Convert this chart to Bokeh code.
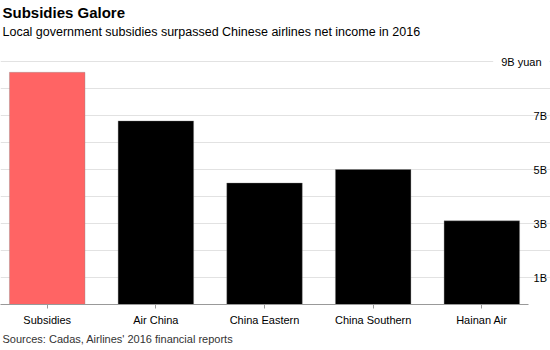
from bokeh.plotting import figure
from bokeh.models import ColumnDataSource, Label, FixedTicker, Title
from bokeh.embed import file_html
from bokeh.resources import INLINE

# ---- data ----
categories = ["Subsidies", "Air China", "China Eastern", "China Southern", "Hainan Air"]
values_b = [8.6, 6.8, 4.5, 5.0, 3.1]  # billion yuan
bar_colors = ["#ff6464", "#000000", "#000000", "#000000", "#000000"]
y_ticks = [1, 3, 5, 7, 9]
y_tick_labels = ["1B", "3B", "5B", "7B", "9B yuan"]
grid_ticks = [1, 2, 3, 4, 5, 6, 7, 8, 9]

FONT = "Liberation Sans"

xs = list(range(len(categories)))
src = ColumnDataSource(dict(x=xs, top=values_b, color=bar_colors, name=categories))

X0, X1 = -0.43, 4.43  # extent of the bar area

p = figure(width=550, height=350, output_backend="svg", toolbar_location=None,
           x_range=(X0, 4.632), y_range=(0, 11.26),
           y_axis_location=None,
           min_border_left=0, min_border_right=0, min_border_top=0, min_border_bottom=46)
p.outline_line_color = None
p.background_fill_color = "white"
p.border_fill_color = "white"

p.vbar(x="x", top="top", width=0.695, color="color", source=src,
       line_color="#888888", line_alpha=0.35, line_width=1)

# grid
p.xgrid.visible = False
p.ygrid.ticker = FixedTicker(ticks=grid_ticks)
p.ygrid.grid_line_color = "#e2e2e2"
p.ygrid.grid_line_width = 1
p.ygrid.bounds = (X0, X1)

# x axis
ax = p.xaxis[0]
ax.ticker = FixedTicker(ticks=xs)
ax.bounds = (X0, X1)
ax.major_label_overrides = {i: c for i, c in zip(xs, categories)}
ax.axis_line_color = "#999999"
ax.axis_line_width = 1
ax.major_tick_line_color = "#999999"
ax.major_tick_out = 4
ax.major_tick_in = 0
ax.minor_tick_line_color = None
ax.major_label_standoff = 5
ax.major_label_text_font = FONT
ax.major_label_text_font_size = "11px"
ax.major_label_text_color = "#000000"

# y labels on the right
for v, lab in zip(y_ticks, y_tick_labels):
    if lab.endswith("yuan"):
        p.add_layout(Label(x=X1, y=v, text=lab, x_offset=21, text_align="right",
                           text_baseline="middle", text_font=FONT, text_font_size="11px",
                           text_color="#000000", background_fill_color="white", padding=8))
    else:
        p.add_layout(Label(x=X1, y=v, text=lab, x_offset=5, text_align="left",
                           text_baseline="middle", text_font=FONT, text_font_size="11px",
                           text_color="#000000"))

# titles (screen units, relative to frame bottom-left)
p.add_layout(Label(x=2, y=292, x_units="screen", y_units="screen",
                   text="Subsidies Galore", text_font=FONT, text_font_size="15px",
                   text_font_style="bold", text_color="#000000", text_baseline="alphabetic"))
p.add_layout(Label(x=2, y=273, x_units="screen", y_units="screen",
                   text="Local government subsidies surpassed Chinese airlines net income in 2016",
                   text_font=FONT, text_font_size="12.5px", text_color="#000000",
                   text_baseline="alphabetic"))

# footer
p.add_layout(Title(text="Sources: Cadas, Airlines' 2016 financial reports", align="left",
                   text_font=FONT, text_font_size="11px", text_font_style="normal",
                   text_color="#333333", standoff=5, offset=2), "below")

open("out.html", "w").write(file_html(p, INLINE))
